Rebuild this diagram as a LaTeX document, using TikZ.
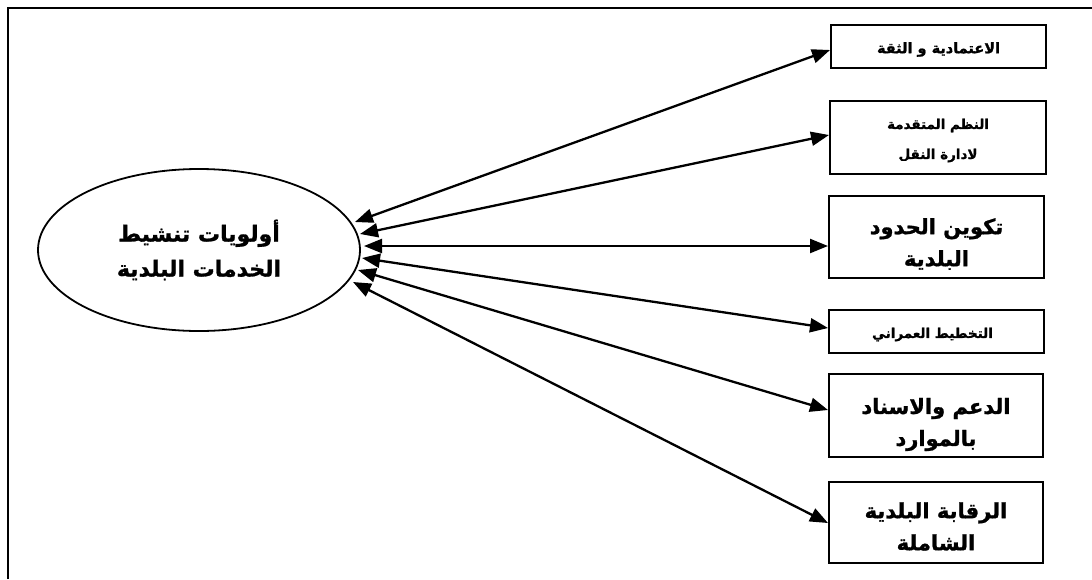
\documentclass[tikz,border=0pt]{standalone}
\usepackage{fontspec}
\usetikzlibrary{arrows.meta,shapes.geometric}
\TeXXeTstate=1
\newfontfamily\arabicfont[Script=Arabic, BoldFeatures={FakeBold=1.2}]{DejaVu Sans}
\newcommand\RL[1]{\beginR #1\endR}
\begin{document}
\begin{tikzpicture}[x=1pt,y=-1pt,
  box/.style={draw, line width=2pt, inner sep=0pt},
  txt/.style={align=center, inner sep=0pt},
  small/.style={font=\arabicfont\bfseries\fontsize{13.5}{30}\selectfont},
  big/.style={font=\arabicfont\bfseries\fontsize{21}{32}\selectfont},
  arr/.style={line width=2.3pt, {Triangle[length=18pt,width=14pt]}-{Triangle[length=18pt,width=14pt]}}]
\useasboundingbox (0,0) rectangle (1092,579);
\draw[line width=2pt] (8,579) -- (8,8) -- (1092,8);
\node[ellipse, draw, line width=1.8pt, minimum width=322pt, minimum height=162pt, inner sep=0pt, align=center,
  font=\arabicfont\bfseries\fontsize{22}{35}\selectfont] (e) at (199,250) {\RL{أولويات تنشيط}\\\RL{الخدمات البلدية}};
\node[box, minimum width=215pt, minimum height=43pt] (b1) at (938.5,46.5) {};
\node[box, minimum width=216pt, minimum height=73pt] (b2) at (938,137.5) {};
\node[box, minimum width=215pt, minimum height=82pt] (b3) at (936.5,237) {};
\node[box, minimum width=215pt, minimum height=43pt] (b4) at (936.5,331.5) {};
\node[box, minimum width=214pt, minimum height=83pt] (b5) at (936,415.5) {};
\node[box, minimum width=214pt, minimum height=81pt] (b6) at (936,522.5) {};
\node[txt, small, font=\arabicfont\bfseries\fontsize{14.5}{30}\selectfont] (l1) at ([yshift=-3pt]b1.center) {\RL{الاعتمادية و الثقة}};
\node[txt, small] (l2) at ([yshift=-3pt]b2.center) {\RL{النظم المتقدمة}\\\RL{لادارة النقل}};
\node[txt, big] (l3) at ([yshift=-7pt]b3.center) {\RL{تكوين الحدود}\\\RL{البلدية}};
\node[txt, small] (l4) at ([xshift=-4pt,yshift=-3pt]b4.center) {\RL{التخطيط العمراني}};
\node[txt, big] (l5) at ([yshift=-9pt]b5.center) {\RL{الدعم والاسناد}\\\RL{بالموارد}};
\node[txt, big] (l6) at ([yshift=-4pt]b6.center) {\RL{الرقابة البلدية}\\\RL{الشاملة}};
\coordinate (t1) at (355,222);
\coordinate (t2) at (360,234);
\coordinate (t3) at (364,246);
\coordinate (t4) at (362,258);
\coordinate (t5) at (358,270);
\coordinate (t6) at (353,282);
\draw[arr] (t1) -- ([yshift=-3.5pt]b1.west);
\draw[arr] (t2) -- ([yshift=2.5pt]b2.west);
\draw[arr] (t3) -- ([yshift=-9pt]b3.west);
\draw[arr] (t4) -- ([yshift=3.5pt]b4.west);
\draw[arr] (t5) -- ([yshift=5.5pt]b5.west);
\draw[arr] (t6) -- ([yshift=-0.5pt]b6.west);
\end{tikzpicture}
\end{document}
